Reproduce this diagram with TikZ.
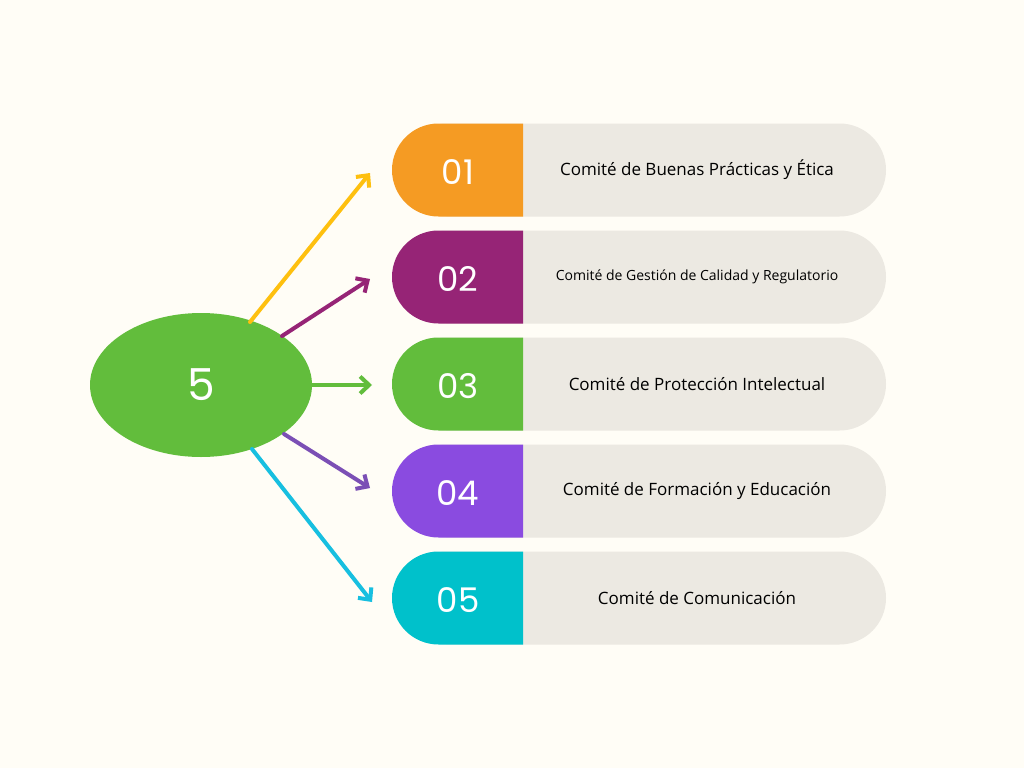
\documentclass[tikz,border=0pt]{standalone}
\usepackage{fontspec}
\setmainfont{Open Sans}
\newfontfamily\numfont{Poppins}
\usetikzlibrary{arrows.meta,shapes.geometric}
\definecolor{bg}{HTML}{FFFDF6}
\definecolor{pillgray}{HTML}{ECE9E2}
\definecolor{cA}{HTML}{F59B23}
\definecolor{cB}{HTML}{962476}
\definecolor{cC}{HTML}{62BD3C}
\definecolor{cD}{HTML}{8A4BE0}
\definecolor{cE}{HTML}{00C1CB}
\definecolor{aA}{HTML}{FEC00F}
\definecolor{aB}{HTML}{962476}
\definecolor{aC}{HTML}{62BD3C}
\definecolor{aD}{HTML}{7B4FB5}
\definecolor{aE}{HTML}{17BFE0}
\tikzset{
  num/.style={font=\numfont\fontsize{34}{34}\selectfont, text=white},
  lab/.style={font=\fontsize{17}{20}\selectfont, text=black},
  conn/.style={line width=4pt, line cap=round, -{Straight Barb[length=9pt,width=17pt,line width=4pt]}},
}
\begin{document}
\begin{tikzpicture}[x=1pt,y=-1pt]
\fill[bg] (0,0) rectangle (1024,768);
\useasboundingbox (0,0) rectangle (1024,768);
\foreach \i/\c/\t/\s in {1/cA/{Comité de Buenas Prácticas y Ética}/17,2/cB/{Comité de Gestión de Calidad y Regulatorio}/14,3/cC/{Comité de Protección Intelectual}/17,4/cD/{Comité de Formación y Educación}/17,5/cE/{Comité de Comunicación}/17}{
  \pgfmathsetmacro{\yc}{170+107*(\i-1)}
  \fill[pillgray, rounded corners=46.5pt] (400,\yc-46.5) rectangle (886,\yc+46.5);
  \fill[\c] (523,\yc-46.5) [rounded corners=46.5pt] -- (392,\yc-46.5) -- (392,\yc+46.5) [sharp corners] -- (523,\yc+46.5) -- cycle;
  \node[num] (n\i) at (458,\yc+2) {0\i};
  \node[lab, font=\fontsize{\s}{20}\selectfont] (l\i) at (697,\yc) {\t};
  \coordinate (t\i) at (392,\yc);
}
\node[fill=cC, ellipse, minimum width=222pt, minimum height=144pt, inner sep=0pt,
  font=\numfont\fontsize{44}{44}\selectfont, text=white] (c) at (201,385) {5};
\coordinate (e1) at (370,173);
\coordinate (e2) at (370,279);
\coordinate (e3) at (372,385);
\coordinate (e4) at (370,488);
\coordinate (e5) at (372,602);
\draw[conn, aA] (250,322) -- (e1);
\draw[conn, aB] (282,336) -- (e2);
\draw[conn, aC] (c.east) -- (e3);
\draw[conn, aD] (284,434) -- (e4);
\draw[conn, aE] (252,449) -- (e5);
\end{tikzpicture}
\end{document}
